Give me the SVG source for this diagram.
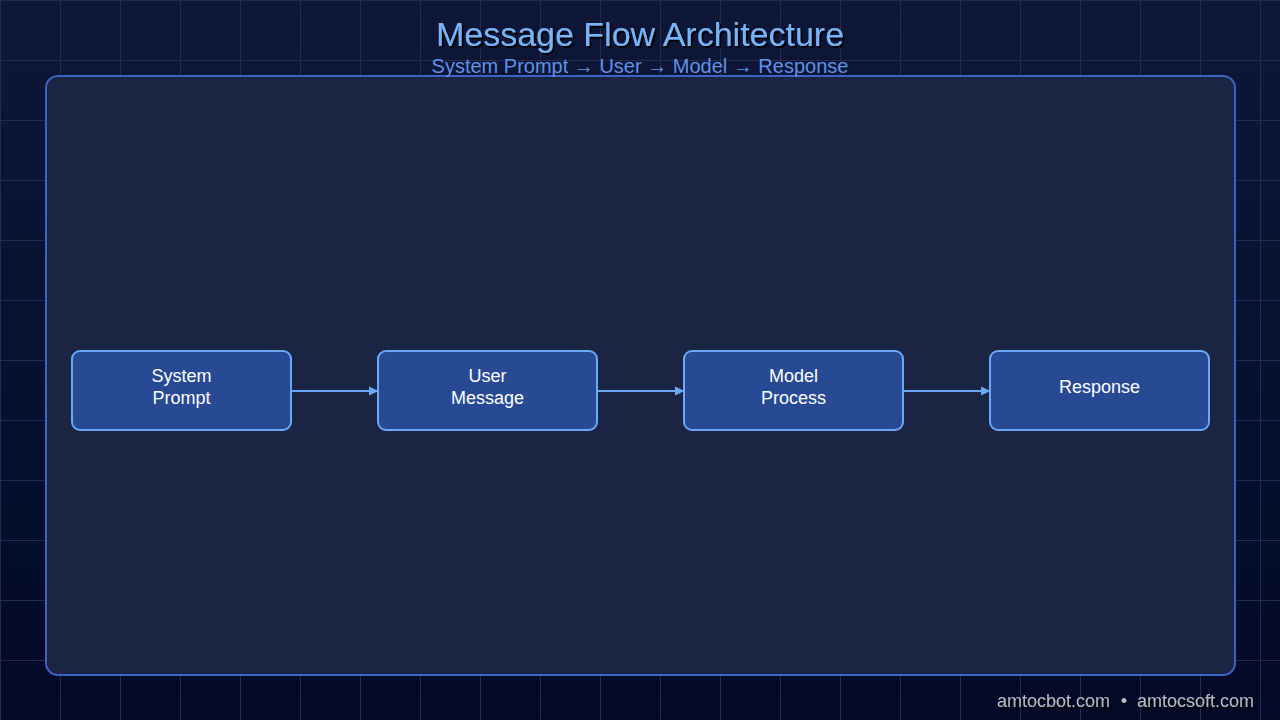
<svg xmlns="http://www.w3.org/2000/svg" width="1280" height="720" viewBox="0 0 1280 720">
<defs>
<linearGradient id="bg" x1="0" y1="0" x2="0" y2="1">
<stop offset="0" stop-color="#0e1737"/>
<stop offset="1" stop-color="#020a28"/>
</linearGradient>
<pattern id="grid" width="60" height="60" patternUnits="userSpaceOnUse">
<path d="M0 0.5H60M0.5 0V60" fill="none" stroke="#222d4d" stroke-width="1"/>
</pattern>
<marker id="arr" markerWidth="10" markerHeight="10" refX="9" refY="5" orient="auto" markerUnits="userSpaceOnUse">
<path d="M0 0.5L9.5 5L0 9.5Z" fill="#6aa8f8"/>
</marker>
<filter id="sh" x="-10%" y="-30%" width="120%" height="160%">
<feDropShadow dx="2" dy="2" stdDeviation="0.6" flood-color="#000" flood-opacity="1"/>
</filter>
</defs>
<style>
.node rect{fill:#284a94;stroke:#6aa8f8;stroke-width:2}
.node text{font-family:"Liberation Sans",Arial,sans-serif;font-size:18px;fill:#ffffff;text-anchor:middle}
.conn line{stroke:#6aa8f8;stroke-width:2}
.ft{font-family:"Liberation Sans",Arial,sans-serif;font-size:18px;fill:#b4b9c8}
</style>
<rect width="1280" height="720" fill="url(#bg)"/>
<rect width="1280" height="720" fill="url(#grid)"/>
<rect id="panel" x="46" y="76" width="1189" height="599" rx="12" fill="#1c2444" stroke="#3b63c6" stroke-width="2"/>
<g id="title">
<text x="640" y="46" font-family="'Liberation Sans',Arial,sans-serif" font-size="34" fill="#78b4fa" text-anchor="middle" filter="url(#sh)">Message Flow Architecture</text>
<text x="640" y="73" font-family="'Liberation Sans',Arial,sans-serif" font-size="20" fill="#5f92e8" text-anchor="middle">System Prompt → User → Model → Response</text>
</g>
<g id="connectors" class="conn">
<line x1="291" y1="391" x2="378" y2="391" marker-end="url(#arr)"/>
<line x1="597" y1="391" x2="684" y2="391" marker-end="url(#arr)"/>
<line x1="903" y1="391" x2="990" y2="391" marker-end="url(#arr)"/>
</g>
<g id="n1" class="node">
<rect x="72" y="351" width="219" height="79" rx="8"/>
<text x="181.5" y="382">System</text>
<text x="181.5" y="404">Prompt</text>
</g>
<g id="n2" class="node">
<rect x="378" y="351" width="219" height="79" rx="8"/>
<text x="487.5" y="382">User</text>
<text x="487.5" y="404">Message</text>
</g>
<g id="n3" class="node">
<rect x="684" y="351" width="219" height="79" rx="8"/>
<text x="793.5" y="382">Model</text>
<text x="793.5" y="404">Process</text>
</g>
<g id="n4" class="node">
<rect x="990" y="351" width="219" height="79" rx="8"/>
<text x="1099.5" y="393">Response</text>
</g>
<g id="footer" filter="url(#sh)">
<text class="ft" x="1110" y="707" text-anchor="end">amtocbot.com</text>
<text class="ft" x="1124" y="707" text-anchor="middle">•</text>
<text class="ft" x="1254" y="707" text-anchor="end">amtocsoft.com</text>
</g>
</svg>
